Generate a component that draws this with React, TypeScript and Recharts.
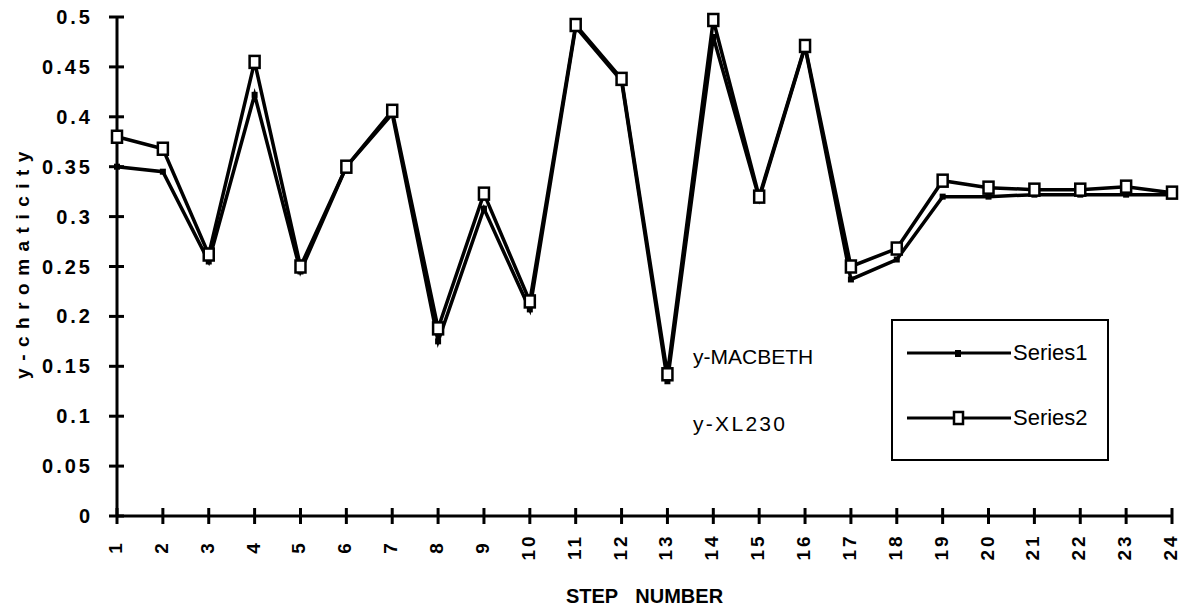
import { LineChart, Line, XAxis, YAxis } from 'recharts';

// step numbers along the x axis
const steps = [1, 2, 3, 4, 5, 6, 7, 8, 9, 10, 11, 12, 13, 14, 15, 16, 17, 18, 19, 20, 21, 22, 23, 24];

// Series1 = y-MACBETH (small filled squares)
const macbeth = [
    0.35, 0.345, 0.255, 0.422, 0.245, 0.35, 0.403, 0.175, 0.308, 0.207, 0.49, 0.436,
    0.135, 0.48, 0.318, 0.47, 0.237, 0.257, 0.32, 0.32, 0.322, 0.322, 0.322, 0.322,
];

// Series2 = y-XL230 (open squares)
const xl230 = [
    0.38, 0.368, 0.262, 0.455, 0.25, 0.35, 0.406, 0.188, 0.323, 0.215, 0.492, 0.438,
    0.142, 0.497, 0.32, 0.471, 0.25, 0.268, 0.336, 0.329, 0.327, 0.327, 0.33, 0.324,
];

const yTicks = [0, 0.05, 0.1, 0.15, 0.2, 0.25, 0.3, 0.35, 0.4, 0.45, 0.5];

const seriesNames = ['Series1', 'Series2'];

const data = steps.map((s, i) => ({ step: s, s1: macbeth[i], s2: xl230[i] }));

const FONT = '"Liberation Sans", Arial, Helvetica, sans-serif';

// tick marks cross the axis line on both sides
const XTick = ({ x, y, payload }: any) => (
    <g>
        <line x1={x} y1={y - 8} x2={x} y2={y + 8} stroke="#000" strokeWidth={3} />
        <text
            x={0}
            y={0}
            transform={`translate(${x + 5},${y + 31}) rotate(-90)`}
            textAnchor="middle"
            fontFamily={FONT}
            fontWeight="bold"
            fontSize={19}
            letterSpacing={3}
            fill="#000"
        >
            {payload.value}
        </text>
    </g>
);

const YTick = ({ x, y, payload }: any) => (
    <g>
        <line x1={x - 8} y1={y} x2={x + 7} y2={y} stroke="#000" strokeWidth={3} />
        <text
            x={x - 24}
            y={y + 7}
            textAnchor="end"
            fontFamily={FONT}
            fontWeight="bold"
            fontSize={20}
            letterSpacing={3}
            fill="#000"
        >
            {String(payload.value)}
        </text>
    </g>
);

const YLabel = ({ viewBox }: any) => {
    const cy = viewBox.y + viewBox.height / 2 - 5;
    return (
        <text
            x={0}
            y={0}
            transform={`translate(29,${cy}) rotate(-90)`}
            textAnchor="middle"
            fontFamily={FONT}
            fontWeight="bold"
            fontSize={19}
            letterSpacing={7.5}
            fill="#000"
        >
            y-chromaticity
        </text>
    );
};

const SmallDot = ({ cx, cy, index }: any) => (
    <rect key={`d1-${index}`} x={cx - 3} y={cy - 3} width={6} height={6} fill="#000" />
);

const OpenSquare = ({ cx, cy, index }: any) => (
    <rect
        key={`d2-${index}`}
        x={cx - 5}
        y={cy - 6}
        width={10}
        height={12}
        fill="#fff"
        stroke="#000"
        strokeWidth={2.5}
    />
);

const LegendBox = () => (
    <div
        style={{
            position: 'absolute',
            left: 891,
            top: 319,
            width: 214,
            height: 138,
            border: '2.5px solid #000',
            background: '#fff',
            fontFamily: FONT,
            fontSize: 22,
        }}
    >
        {seriesNames.map((name, i) => (
            <div
                key={name}
                style={{ position: 'absolute', left: 14, top: i === 0 ? 19 : 84, display: 'flex', alignItems: 'center' }}
            >
                <svg width={104} height={24}>
                    <line x1={0} y1={12} x2={104} y2={12} stroke="#000" strokeWidth={3} />
                    {i === 1 ? (
                        <rect x={47} y={6} width={9} height={12} fill="#fff" stroke="#000" strokeWidth={2.5} />
                    ) : (
                        <rect x={48} y={9} width={6} height={7} fill="#000" />
                    )}
                </svg>
                <span style={{ marginLeft: 2 }}>{name}</span>
            </div>
        ))}
    </div>
);

export default function App() {
    return (
        <div style={{ position: 'absolute', left: 0, top: 0, width: 1181, height: 611, background: '#fff' }}>
            <LineChart
                width={1181}
                height={611}
                data={data}
                margin={{ top: 17, right: 9, left: 0, bottom: 0 }}
            >
                <XAxis
                    dataKey="step"
                    type="number"
                    domain={[1, 24]}
                    ticks={steps}
                    interval={0}
                    height={95}
                    tickSize={0}
                    tickMargin={0}
                    tickLine={false}
                    axisLine={{ stroke: '#000', strokeWidth: 3 }}
                    tick={<XTick />}
                    label={{
                        value: 'STEP NUMBER',
                        position: 'insideBottom',
                        offset: 8,
                        fill: '#000',
                        fontFamily: FONT,
                        fontWeight: 'bold',
                        fontSize: 20,
                        wordSpacing: 12,
                    } as any}
                />
                <YAxis
                    type="number"
                    domain={[0, 0.5]}
                    ticks={yTicks}
                    interval={0}
                    width={117}
                    tickSize={0}
                    tickMargin={0}
                    tickLine={false}
                    axisLine={{ stroke: '#000', strokeWidth: 3 }}
                    tick={<YTick />}
                    label={<YLabel />}
                />
                <Line
                    dataKey="s1"
                    name={seriesNames[0]}
                    stroke="#000"
                    strokeWidth={3.5}
                    dot={<SmallDot />}
                    activeDot={false}
                    isAnimationActive={false}
                />
                <Line
                    dataKey="s2"
                    name={seriesNames[1]}
                    stroke="#000"
                    strokeWidth={3.5}
                    dot={<OpenSquare />}
                    activeDot={false}
                    isAnimationActive={false}
                />
            </LineChart>
            <LegendBox />
            <div style={{ position: 'absolute', left: 693, top: 345, fontFamily: FONT, fontSize: 21 }}>
                y-MACBETH
            </div>
            <div style={{ position: 'absolute', left: 693, top: 412, fontFamily: FONT, fontSize: 21, letterSpacing: 2.3 }}>
                y-XL230
            </div>
        </div>
    );
}
